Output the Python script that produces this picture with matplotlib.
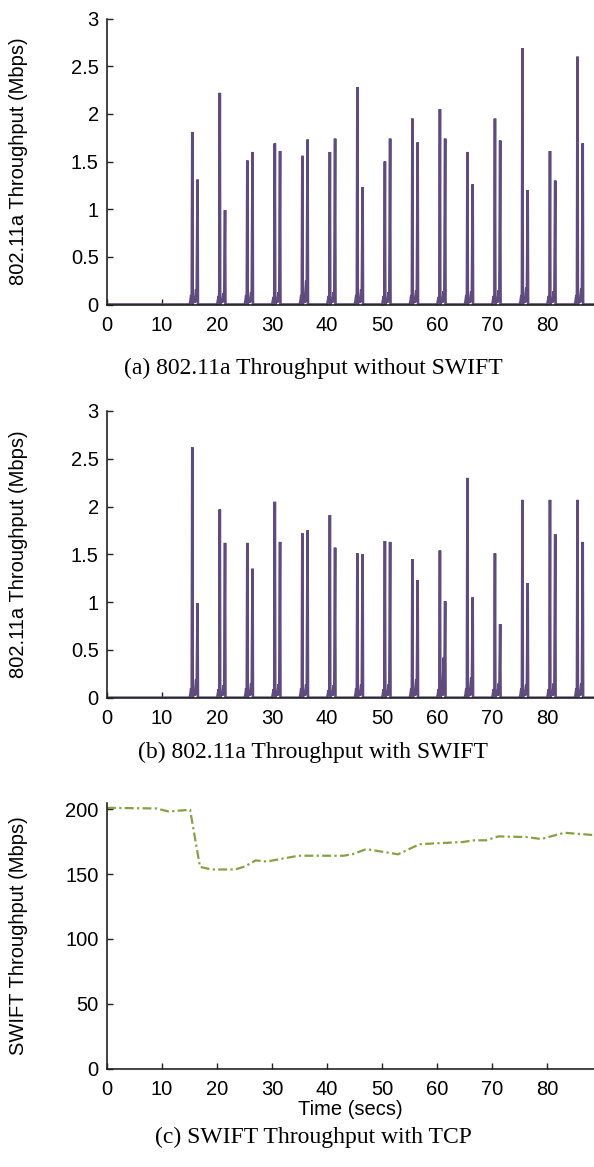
import numpy as np
import matplotlib.pyplot as plt

# ---------------- data ----------------
# start time (secs) of each burst, 802.11a traces
burst_start = [15, 20, 25, 30, 35, 40, 45, 50, 55, 60, 65, 70, 75, 80, 85]

# (a) without SWIFT: first / second spike height and small humps (Mbps)
peak1_a = [1.81, 2.22, 1.51, 1.69, 1.56, 1.60, 2.28, 1.50, 1.95, 2.05, 1.60, 1.95, 2.69, 1.61, 2.60]
peak2_a = [1.31, 0.99, 1.60, 1.61, 1.73, 1.74, 1.23, 1.74, 1.70, 1.74, 1.26, 1.72, 1.20, 1.30, 1.69]
hump1_a = [0.10, 0.09, 0.10, 0.08, 0.10, 0.09, 0.10, 0.09, 0.10, 0.08, 0.10, 0.09, 0.10, 0.09, 0.10]
hump2_a = [0.16, 0.12, 0.13, 0.13, 0.25, 0.13, 0.16, 0.13, 0.15, 0.14, 0.14, 0.15, 0.18, 0.14, 0.17]

# (b) with SWIFT
peak1_b = [2.62, 1.97, 1.62, 2.05, 1.72, 1.91, 1.51, 1.64, 1.45, 1.54, 2.30, 1.51, 2.07, 2.07, 2.07]
peak2_b = [0.99, 1.62, 1.35, 1.63, 1.75, 1.57, 1.50, 1.63, 1.23, 1.01, 1.05, 0.77, 1.20, 1.71, 1.63]
hump1_b = [0.10, 0.09, 0.10, 0.09, 0.10, 0.08, 0.10, 0.09, 0.10, 0.09, 0.10, 0.09, 0.10, 0.09, 0.10]
hump2_b = [0.19, 0.13, 0.15, 0.14, 0.14, 0.13, 0.14, 0.14, 0.19, 0.42, 0.21, 0.15, 0.14, 0.15, 0.15]

# (c) SWIFT throughput with TCP
swift_t = [0, 9.0, 11.2, 15.1, 16.9, 19.0, 23.3, 25.1, 27.0, 29.0, 34.8, 43.0, 44.8, 47.1,
           52.9, 56.8, 64.7, 66.8, 68.9, 71.1, 76.2, 78.9, 83.1, 88.5]
swift_tp = [201, 200.5, 198.2, 199.5, 155.5, 153.5, 153.5, 155.9, 160.5, 159.6, 164.1, 164.1,
            165.5, 169.2, 165.2, 173, 174.7, 176, 176, 179, 178.5, 177, 181.8, 180]

XMAX = 88.5
PURPLE = "#5f4b7d"
GREEN = "#86a044"
SANS = "Liberation Sans"
SERIF = "Liberation Serif"
FS = 14.5
CAP_FS = 17


def burst_trace(starts, p1, p2, h1, h2):
    # each burst: small hump, tall spike, second hump, second spike
    t = [0.0]
    y = [0.0]
    for s, a, b, c, d in zip(starts, p1, p2, h1, h2):
        t += [s, s + 0.15, s + 0.3, s + 0.4, s + 0.5, s + 0.57, s + 0.75, s + 0.95,
              s + 1.2, s + 1.3, s + 1.45, s + 1.52, s + 1.6]
        y += [0, 0.03, c, 0.02, a, 0, 0.05, 0.02, d, 0.03, b, 0, 0]
    t.append(XMAX)
    y.append(0.0)
    return t, y


def style_axes(ax):
    for side in ["top", "right"]:
        ax.spines[side].set_visible(False)
    for side in ["left", "bottom"]:
        ax.spines[side].set_linewidth(1.2)
        ax.spines[side].set_color("#222222")
    ax.tick_params(direction="in", length=4, width=1, colors="#222222",
                   labelcolor="black", labelsize=FS, pad=6)
    ax.tick_params(axis="x", pad=8)
    for lab in ax.get_xticklabels() + ax.get_yticklabels():
        lab.set_fontfamily(SANS)


fig = plt.figure(figsize=(5.94, 11.67), dpi=100)
H = 1167.0
W = 594.0
LABEL_X = -79 / (W - 107)


def add_ax(top_px, bottom_px):
    return fig.add_axes([107 / W, 1 - bottom_px / H, (W - 107) / W, (bottom_px - top_px) / H])


# ---- (a) and (b) ----
panels = [
    (18.5, 304.5, peak1_a, peak2_a, hump1_a, hump2_a, 368, "(a) 802.11a Throughput without SWIFT"),
    (411, 697.7, peak1_b, peak2_b, hump1_b, hump2_b, 752, "(b) 802.11a Throughput with SWIFT"),
]
for top, bot, p1, p2, h1, h2, cap_y, caption in panels:
    ax = add_ax(top, bot)
    t, y = burst_trace(burst_start, p1, p2, h1, h2)
    ax.plot(t, y, color=PURPLE, linewidth=1.9, solid_joinstyle="miter")
    ax.set_xlim(0, XMAX)
    ax.set_ylim(0, 3)
    ax.set_xticks(np.arange(0, 81, 10))
    ax.set_yticks([0, 0.5, 1, 1.5, 2, 2.5, 3])
    ax.set_yticklabels(["0", "0.5", "1", "1.5", "2", "2.5", "3"])
    style_axes(ax)
    ax.set_ylabel("802.11a Throughput (Mbps)", fontfamily=SANS, fontsize=FS)
    ax.yaxis.set_label_coords(LABEL_X, 0.5)
    fig.text(313 / W, 1 - cap_y / H, caption, ha="center", va="center",
             fontfamily=SERIF, fontsize=CAP_FS)

# ---- (c) ----
ax = add_ax(803.3, 1068.7)
ax.plot(swift_t, swift_tp, color=GREEN, linewidth=1.6, linestyle=(0, (4, 1.5, 1, 1.5)))
ax.set_xlim(0, XMAX)
ax.set_ylim(0, 204.5)
ax.set_xticks(np.arange(0, 81, 10))
ax.set_yticks([0, 50, 100, 150, 200])
style_axes(ax)
ax.set_ylabel("SWIFT Throughput (Mbps)", fontfamily=SANS, fontsize=FS)
ax.yaxis.set_label_coords(LABEL_X, 0.5)
ax.set_xlabel("Time (secs)", fontfamily=SANS, fontsize=FS, labelpad=1)
fig.text(313 / W, 1 - 1137 / H, "(c) SWIFT Throughput with TCP", ha="center", va="center",
         fontfamily=SERIF, fontsize=CAP_FS)

fig.savefig("out.png", dpi=100)
